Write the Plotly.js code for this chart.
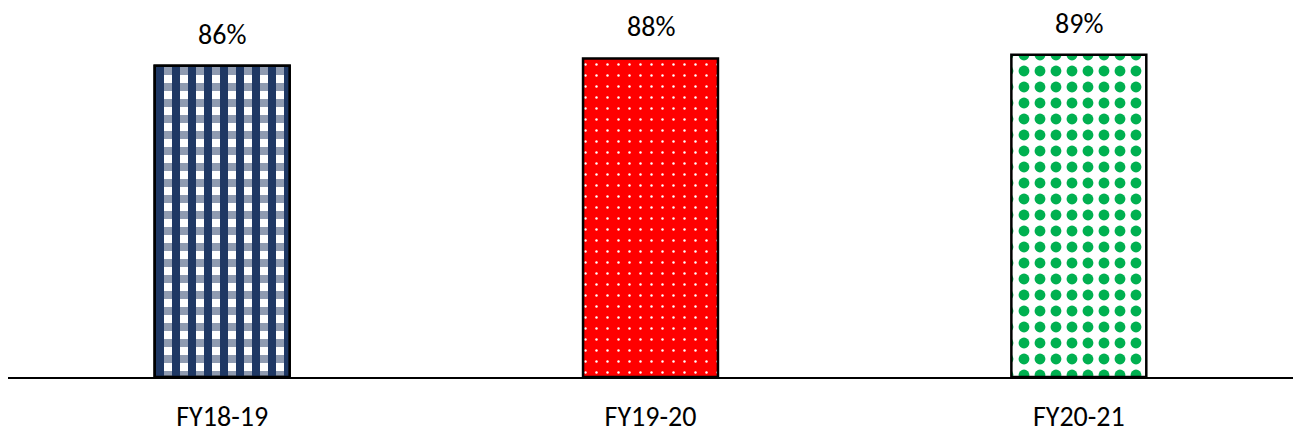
<!DOCTYPE html>
<html>
<head>
<meta charset="utf-8">
<script src="https://cdn.plot.ly/plotly-3.0.1.min.js"></script>
<style>
html,body{margin:0;padding:0;background:#fff;}
#chart{width:1296px;height:435px;}
</style>
</head>
<body>
<div id="chart"></div>
<script>
const categories = ['FY18-19', 'FY19-20', 'FY20-21'];
const values = [86, 88, 89];
const valueLabels = ['86%', '88%', '89%'];

const FONT = 'Carlito, Calibri, Lato, sans-serif';

const patterns = [
  {shape: '-', fgcolor: '#8f9bb1', bgcolor: '#ffffff', size: 16, solidity: 0.5},
  {shape: '.', fgcolor: '#ffffff', bgcolor: '#ff0000', size: 11, solidity: 0.04},
  {shape: '.', fgcolor: '#00b050', bgcolor: '#ffffff', size: 16, solidity: 0.36}
];

const traces = categories.map((c, i) => ({
  type: 'bar',
  x: [c],
  y: [values[i]],
  hoverinfo: 'skip',
  marker: {
    color: patterns[i].bgcolor,
    line: {color: '#000000', width: 2.5},
    pattern: Object.assign({fillmode: 'replace'}, patterns[i])
  }
}));

// second pattern layer of the first (gingham) bar: navy columns on a clear ground
traces.push({
  type: 'bar',
  x: [categories[0]],
  y: [values[0]],
  hoverinfo: 'skip',
  marker: {
    color: 'rgba(0,0,0,0)',
    line: {color: '#000000', width: 2.5},
    pattern: {shape: '|', fillmode: 'replace', fgcolor: '#1f3864', bgcolor: 'rgba(0,0,0,0)',
              fgopacity: 1, size: 16, solidity: 0.5}
  }
});

const annotations = categories.map((c, i) => ({
  x: c, y: values[i], text: valueLabels[i],
  xref: 'x', yref: 'y', showarrow: false,
  yanchor: 'bottom', yshift: 12,
  font: {family: FONT, size: 28, color: '#000000'}
}));

const layout = {
  width: 1296, height: 435,
  margin: {l: 8, r: 3, t: 15, b: 58, pad: 0},
  paper_bgcolor: '#ffffff', plot_bgcolor: '#ffffff',
  showlegend: false,
  barmode: 'overlay',
  bargap: 0.685,
  xaxis: {
    type: 'category',
    categoryorder: 'array', categoryarray: categories,
    showline: true, linecolor: '#000000', linewidth: 2,
    showgrid: false, zeroline: false, ticks: '',
    ticklabelstandoff: 13,
    tickfont: {family: FONT, size: 28, color: '#000000'}
  },
  yaxis: {
    range: [0, 100], visible: false, showgrid: false, zeroline: false
  },
  annotations: annotations
};

Plotly.newPlot('chart', traces, layout, {displayModeBar: false, staticPlot: true});
</script>
</body>
</html>
